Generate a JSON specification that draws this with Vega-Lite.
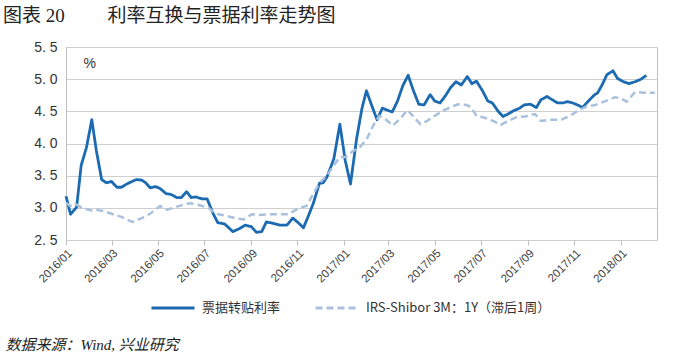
{
  "$schema": "https://vega.github.io/schema/vega-lite/v6.json",
  "width": 591,
  "height": 193,
  "autosize": {"type": "none"},
  "padding": {"left": 66, "top": 47, "right": 43, "bottom": 120},
  "background": "white",
  "title": {
    "text": "图表 20　　 利率互换与票据利率走势图",
    "anchor": "start",
    "frame": "group",
    "dx": -63,
    "offset": 14,
    "font": "Liberation Serif, Noto Sans CJK SC",
    "fontSize": 19,
    "fontWeight": "normal",
    "color": "#222222"
  },
  "config": {
    "view": {"stroke": "#BFBFBF", "strokeWidth": 1}
  },
  "datasets": {
    "bill": [
      {"d": "2016-01-01", "v": 3.18}, {"d": "2016-01-07", "v": 2.90}, {"d": "2016-01-15", "v": 3.01},
      {"d": "2016-01-21", "v": 3.66}, {"d": "2016-01-28", "v": 3.94}, {"d": "2016-02-04", "v": 4.37},
      {"d": "2016-02-10", "v": 3.89}, {"d": "2016-02-17", "v": 3.44}, {"d": "2016-02-23", "v": 3.39},
      {"d": "2016-03-01", "v": 3.41}, {"d": "2016-03-08", "v": 3.32}, {"d": "2016-03-14", "v": 3.32},
      {"d": "2016-03-21", "v": 3.37}, {"d": "2016-03-28", "v": 3.41}, {"d": "2016-04-03", "v": 3.44},
      {"d": "2016-04-10", "v": 3.43}, {"d": "2016-04-15", "v": 3.39}, {"d": "2016-04-21", "v": 3.31},
      {"d": "2016-04-28", "v": 3.33}, {"d": "2016-05-04", "v": 3.30}, {"d": "2016-05-12", "v": 3.22},
      {"d": "2016-05-18", "v": 3.21}, {"d": "2016-05-26", "v": 3.16}, {"d": "2016-06-01", "v": 3.16},
      {"d": "2016-06-08", "v": 3.25}, {"d": "2016-06-14", "v": 3.16}, {"d": "2016-06-20", "v": 3.17},
      {"d": "2016-06-28", "v": 3.14}, {"d": "2016-07-05", "v": 3.14}, {"d": "2016-07-13", "v": 2.91},
      {"d": "2016-07-19", "v": 2.77}, {"d": "2016-07-28", "v": 2.75}, {"d": "2016-08-08", "v": 2.63},
      {"d": "2016-08-17", "v": 2.68}, {"d": "2016-08-24", "v": 2.73}, {"d": "2016-09-01", "v": 2.71},
      {"d": "2016-09-08", "v": 2.62}, {"d": "2016-09-15", "v": 2.63}, {"d": "2016-09-21", "v": 2.78},
      {"d": "2016-09-30", "v": 2.76}, {"d": "2016-10-09", "v": 2.73}, {"d": "2016-10-18", "v": 2.73},
      {"d": "2016-10-26", "v": 2.84}, {"d": "2016-11-02", "v": 2.77}, {"d": "2016-11-09", "v": 2.69},
      {"d": "2016-11-15", "v": 2.86}, {"d": "2016-11-22", "v": 3.07}, {"d": "2016-11-30", "v": 3.38},
      {"d": "2016-12-05", "v": 3.39}, {"d": "2016-12-10", "v": 3.48}, {"d": "2016-12-19", "v": 3.76},
      {"d": "2016-12-27", "v": 4.30}, {"d": "2017-01-03", "v": 3.74}, {"d": "2017-01-10", "v": 3.37},
      {"d": "2017-01-18", "v": 4.07}, {"d": "2017-01-25", "v": 4.54}, {"d": "2017-01-31", "v": 4.82},
      {"d": "2017-02-07", "v": 4.59}, {"d": "2017-02-14", "v": 4.37}, {"d": "2017-02-21", "v": 4.55},
      {"d": "2017-02-27", "v": 4.52}, {"d": "2017-03-06", "v": 4.49}, {"d": "2017-03-13", "v": 4.66},
      {"d": "2017-03-20", "v": 4.90}, {"d": "2017-03-27", "v": 5.06}, {"d": "2017-04-03", "v": 4.82},
      {"d": "2017-04-10", "v": 4.61}, {"d": "2017-04-17", "v": 4.60}, {"d": "2017-04-25", "v": 4.76},
      {"d": "2017-05-01", "v": 4.66}, {"d": "2017-05-08", "v": 4.63}, {"d": "2017-05-15", "v": 4.74},
      {"d": "2017-05-22", "v": 4.87}, {"d": "2017-05-29", "v": 4.96}, {"d": "2017-06-05", "v": 4.91},
      {"d": "2017-06-13", "v": 5.04}, {"d": "2017-06-19", "v": 4.93}, {"d": "2017-06-25", "v": 4.97},
      {"d": "2017-07-03", "v": 4.82}, {"d": "2017-07-10", "v": 4.66}, {"d": "2017-07-16", "v": 4.63},
      {"d": "2017-07-23", "v": 4.51}, {"d": "2017-07-30", "v": 4.42}, {"d": "2017-08-06", "v": 4.46},
      {"d": "2017-08-13", "v": 4.51}, {"d": "2017-08-21", "v": 4.55}, {"d": "2017-08-27", "v": 4.60},
      {"d": "2017-09-04", "v": 4.61}, {"d": "2017-09-12", "v": 4.56}, {"d": "2017-09-18", "v": 4.68},
      {"d": "2017-09-26", "v": 4.73}, {"d": "2017-10-03", "v": 4.68}, {"d": "2017-10-10", "v": 4.63},
      {"d": "2017-10-17", "v": 4.63}, {"d": "2017-10-23", "v": 4.65}, {"d": "2017-10-30", "v": 4.63},
      {"d": "2017-11-05", "v": 4.60}, {"d": "2017-11-12", "v": 4.56}, {"d": "2017-11-18", "v": 4.64},
      {"d": "2017-11-27", "v": 4.75}, {"d": "2017-12-02", "v": 4.79}, {"d": "2017-12-08", "v": 4.92},
      {"d": "2017-12-14", "v": 5.07}, {"d": "2017-12-22", "v": 5.13}, {"d": "2017-12-28", "v": 5.01},
      {"d": "2018-01-05", "v": 4.96}, {"d": "2018-01-12", "v": 4.93}, {"d": "2018-01-20", "v": 4.96},
      {"d": "2018-01-28", "v": 5.00}, {"d": "2018-02-04", "v": 5.06}
    ],
    "irs": [
      {"d": "2016-01-01", "v": 3.08}, {"d": "2016-01-06", "v": 3.03}, {"d": "2016-01-15", "v": 3.05},
      {"d": "2016-01-23", "v": 2.99}, {"d": "2016-02-04", "v": 2.96}, {"d": "2016-02-10", "v": 2.97},
      {"d": "2016-02-19", "v": 2.95}, {"d": "2016-03-03", "v": 2.90}, {"d": "2016-03-14", "v": 2.86},
      {"d": "2016-03-28", "v": 2.78}, {"d": "2016-04-10", "v": 2.84}, {"d": "2016-04-21", "v": 2.91},
      {"d": "2016-05-04", "v": 3.03}, {"d": "2016-05-13", "v": 2.97}, {"d": "2016-05-24", "v": 3.01},
      {"d": "2016-06-07", "v": 3.06}, {"d": "2016-06-13", "v": 3.07}, {"d": "2016-06-25", "v": 3.04},
      {"d": "2016-07-07", "v": 3.00}, {"d": "2016-07-16", "v": 2.91}, {"d": "2016-07-29", "v": 2.88},
      {"d": "2016-08-11", "v": 2.84}, {"d": "2016-08-22", "v": 2.82}, {"d": "2016-09-02", "v": 2.90},
      {"d": "2016-09-13", "v": 2.89}, {"d": "2016-09-26", "v": 2.90}, {"d": "2016-10-09", "v": 2.90},
      {"d": "2016-10-20", "v": 2.90}, {"d": "2016-11-02", "v": 2.99}, {"d": "2016-11-13", "v": 3.03},
      {"d": "2016-11-22", "v": 3.22}, {"d": "2016-12-01", "v": 3.40}, {"d": "2016-12-10", "v": 3.50},
      {"d": "2016-12-19", "v": 3.66}, {"d": "2016-12-27", "v": 3.79}, {"d": "2017-01-04", "v": 3.79},
      {"d": "2017-01-13", "v": 3.88}, {"d": "2017-01-22", "v": 3.94}, {"d": "2017-01-31", "v": 4.06},
      {"d": "2017-02-09", "v": 4.28}, {"d": "2017-02-17", "v": 4.43}, {"d": "2017-02-26", "v": 4.37},
      {"d": "2017-03-07", "v": 4.28}, {"d": "2017-03-16", "v": 4.38}, {"d": "2017-03-26", "v": 4.52},
      {"d": "2017-04-03", "v": 4.42}, {"d": "2017-04-12", "v": 4.30}, {"d": "2017-04-21", "v": 4.35},
      {"d": "2017-05-01", "v": 4.43}, {"d": "2017-05-12", "v": 4.51}, {"d": "2017-05-23", "v": 4.57},
      {"d": "2017-06-01", "v": 4.61}, {"d": "2017-06-12", "v": 4.60}, {"d": "2017-06-18", "v": 4.56},
      {"d": "2017-06-25", "v": 4.43}, {"d": "2017-07-06", "v": 4.40}, {"d": "2017-07-17", "v": 4.35},
      {"d": "2017-07-27", "v": 4.29}, {"d": "2017-08-06", "v": 4.35}, {"d": "2017-08-17", "v": 4.41},
      {"d": "2017-08-28", "v": 4.42}, {"d": "2017-09-10", "v": 4.46}, {"d": "2017-09-18", "v": 4.35},
      {"d": "2017-10-02", "v": 4.37}, {"d": "2017-10-15", "v": 4.37}, {"d": "2017-10-26", "v": 4.43},
      {"d": "2017-11-06", "v": 4.51}, {"d": "2017-11-16", "v": 4.57}, {"d": "2017-11-29", "v": 4.60},
      {"d": "2017-12-12", "v": 4.66}, {"d": "2017-12-25", "v": 4.72}, {"d": "2018-01-01", "v": 4.70},
      {"d": "2018-01-09", "v": 4.65}, {"d": "2018-01-20", "v": 4.80}, {"d": "2018-01-31", "v": 4.79},
      {"d": "2018-02-15", "v": 4.79}
    ]
  },
  "encoding": {
    "x": {
      "field": "d",
      "type": "temporal",
      "scale": {
        "type": "utc",
        "domain": [
          {"year": 2016, "month": 1, "date": 1, "utc": true},
          {"year": 2018, "month": 2, "date": 18, "utc": true}
        ]
      },
      "axis": {
        "values": [
          {"year": 2016, "month": 1, "date": 1, "utc": true},
          {"year": 2016, "month": 3, "date": 1, "utc": true},
          {"year": 2016, "month": 5, "date": 1, "utc": true},
          {"year": 2016, "month": 7, "date": 1, "utc": true},
          {"year": 2016, "month": 9, "date": 1, "utc": true},
          {"year": 2016, "month": 11, "date": 1, "utc": true},
          {"year": 2017, "month": 1, "date": 1, "utc": true},
          {"year": 2017, "month": 3, "date": 1, "utc": true},
          {"year": 2017, "month": 5, "date": 1, "utc": true},
          {"year": 2017, "month": 7, "date": 1, "utc": true},
          {"year": 2017, "month": 9, "date": 1, "utc": true},
          {"year": 2017, "month": 11, "date": 1, "utc": true},
          {"year": 2018, "month": 1, "date": 1, "utc": true}
        ],
        "labelExpr": "utcFormat(datum.value, '%Y/%m')",
        "labelOverlap": false,
        "labelAngle": -45,
        "labelFont": "Liberation Sans",
        "labelFontSize": 11.5,
        "labelColor": "#404040",
        "labelPadding": 2,
        "tickColor": "#BFBFBF",
        "tickSize": 5,
        "domain": false,
        "grid": false,
        "title": "数据来源：Wind, 兴业研究",
        "titleX": -61,
        "titleY": 104,
        "titleAngle": 0,
        "titleAlign": "left",
        "titleBaseline": "middle",
        "titleFont": "Liberation Serif, Noto Sans CJK SC",
        "titleFontStyle": "italic",
        "titleFontSize": 15,
        "titleFontWeight": "normal",
        "titleColor": "#222222"
      }
    },
    "y": {
      "field": "v",
      "type": "quantitative",
      "scale": {"domain": [2.5, 5.5], "nice": false, "zero": false},
      "axis": {
        "values": [2.5, 3, 3.5, 4, 4.5, 5, 5.5],
        "labelExpr": "replace(format(datum.value, '.1f'), '.', '. ')",
        "labelOverlap": false,
        "ticks": false,
        "labelPadding": 9,
        "labelFont": "Liberation Sans",
        "labelFontSize": 14,
        "labelColor": "#333333",
        "domainColor": "#BFBFBF",
        "gridColor": "#CFCFCF",
        "title": "%",
        "titleAngle": 0,
        "titleX": 17,
        "titleY": 16,
        "titleAlign": "left",
        "titleBaseline": "middle",
        "titleFont": "Liberation Sans",
        "titleFontSize": 14,
        "titleFontWeight": "normal",
        "titleColor": "#333333"
      }
    }
  },
  "layer": [
    {
      "data": {"name": "bill"},
      "mark": {"type": "line", "strokeWidth": 2.8, "strokeJoin": "round"},
      "encoding": {
        "color": {
          "datum": "票据转贴利率",
          "scale": {
            "domain": ["票据转贴利率", "IRS-Shibor 3M：1Y（滞后1周）"],
            "range": ["#1C6AB1", "#A9C1DC"]
          },
          "legend": {
            "orient": "none",
            "legendX": 84,
            "legendY": 238,
            "direction": "horizontal",
            "title": null,
            "symbolType": "stroke",
            "symbolSize": 1849,
            "symbolStrokeWidth": 3,
            "labelFont": "Noto Sans CJK SC",
            "labelFontSize": 13,
            "labelColor": "#333333",
            "labelOffset": 6,
            "labelLimit": 400,
            "columnPadding": 28
          }
        },
        "strokeDash": {
          "datum": "票据转贴利率",
          "scale": {
            "domain": ["票据转贴利率", "IRS-Shibor 3M：1Y（滞后1周）"],
            "range": [[1, 0], [7, 4]]
          },
          "legend": {
            "orient": "none",
            "legendX": 84,
            "legendY": 238,
            "direction": "horizontal",
            "title": null,
            "symbolType": "stroke",
            "symbolSize": 1849,
            "symbolStrokeWidth": 3,
            "labelFont": "Noto Sans CJK SC",
            "labelFontSize": 13,
            "labelColor": "#333333",
            "labelOffset": 6,
            "labelLimit": 400,
            "columnPadding": 28
          }
        }
      }
    },
    {
      "data": {"name": "irs"},
      "mark": {"type": "line", "strokeWidth": 2.5, "strokeJoin": "round"},
      "encoding": {
        "color": {"datum": "IRS-Shibor 3M：1Y（滞后1周）"},
        "strokeDash": {"datum": "IRS-Shibor 3M：1Y（滞后1周）"}
      }
    }
  ]
}
